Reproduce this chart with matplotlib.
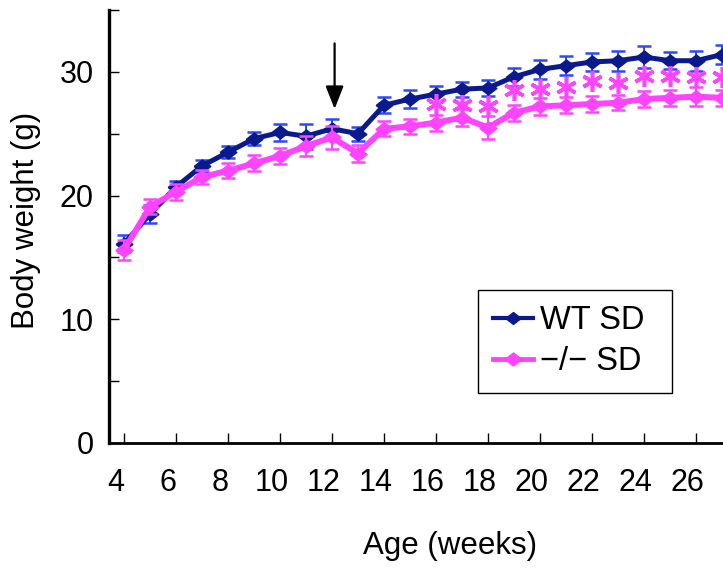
import numpy as np
import matplotlib
matplotlib.use("Agg")
import matplotlib.pyplot as plt
import matplotlib.transforms as mtransforms
from matplotlib.lines import Line2D
from matplotlib.patches import Rectangle

plt.rcParams["font.family"] = ["Liberation Sans", "DejaVu Sans"]

# ── Data ────────────────────────────────────────────────────────────────────
weeks = np.arange(4, 28)
wt_mean = [16.1, 18.5, 20.7, 22.4, 23.5, 24.6, 25.1, 24.8, 25.4, 25.0, 27.3, 27.8,
           28.2, 28.6, 28.7, 29.6, 30.2, 30.5, 30.8, 30.9, 31.2, 30.9, 30.9, 31.4]
wt_sd = [0.7, 0.7, 0.5, 0.5, 0.5, 0.55, 0.65, 1.0, 0.75, 0.55, 0.65, 0.75,
         0.65, 0.6, 0.65, 0.75, 0.75, 0.75, 0.7, 0.8, 0.9, 0.7, 0.8, 0.75]
ko_mean = [15.6, 19.1, 20.3, 21.5, 22.0, 22.6, 23.2, 24.0, 24.7, 23.4, 25.4, 25.6,
           25.9, 26.3, 25.5, 26.7, 27.2, 27.3, 27.4, 27.5, 27.8, 27.9, 28.0, 27.9]
ko_sd = [0.8, 0.6, 0.65, 0.6, 0.6, 0.65, 0.65, 0.8, 0.95, 0.65, 0.6, 0.6,
         0.65, 0.7, 0.95, 0.65, 0.7, 0.65, 0.65, 0.6, 0.65, 0.65, 0.8, 0.65]

# significance asterisks (weeks 16-27)
star_weeks = np.arange(16, 28)
star_y = [27.4, 27.3, 27.2, 28.5, 28.6, 28.8, 29.3, 29.1, 29.7, 29.7, 29.6, 29.6]

ARROW_WEEK = 12.1

WT_COLOR = "#0a1a8c"
WT_ERR = "#2a48ff"
KO_COLOR = "#ff44ff"

# wide, flat diamond like the Excel marker
DIAMOND = [(-1, 0), (0, 0.78), (1, 0), (0, -0.78), (-1, 0)]

# ── Figure ──────────────────────────────────────────────────────────────────
fig = plt.figure(figsize=(7.23, 5.68), dpi=100)
ax = fig.add_axes([109 / 723, 1 - 443 / 568, 1 - 109 / 723, (443 - 10) / 568])

ax.errorbar(weeks, wt_mean, yerr=wt_sd, fmt="none", ecolor=WT_ERR,
            elinewidth=1.4, capsize=4.7, capthick=1.8, zorder=2)
ax.plot(weeks, wt_mean, color=WT_COLOR, lw=3.6, marker=DIAMOND, ms=12, zorder=3)

ax.errorbar(weeks, ko_mean, yerr=ko_sd, fmt="none", ecolor=KO_COLOR,
            elinewidth=1.4, capsize=4.7, capthick=1.8, zorder=4)
ax.plot(weeks, ko_mean, color=KO_COLOR, lw=4.3, marker=DIAMOND, ms=12.5, zorder=5)

ax.plot(star_weeks, star_y, ls="none", marker=(6, 2, 0), ms=15, mew=2.6,
        color=KO_COLOR, zorder=4)

ax.annotate("", xy=(ARROW_WEEK, 27.0), xytext=(ARROW_WEEK, 32.3),
            arrowprops=dict(arrowstyle="-|>,head_length=1.4,head_width=0.55",
                            color="black", lw=1.6, shrinkA=0, shrinkB=0))

ax.set_xlim(4 - 15 / 26, 4 + (723 - 124) / 26)
ax.set_ylim(0, 35)

ax.set_xticks(np.arange(4, 27, 2))
ax.set_yticks([0, 10, 20, 30])
ax.set_yticks([5, 15, 25, 35], minor=True)
ax.tick_params(axis="both", which="both", direction="in", length=7, width=1.0,
               labelsize=22)
ax.tick_params(axis="x", pad=18)
ax.tick_params(axis="y", pad=11)

shift = mtransforms.ScaledTranslation(-6 / 72, 0, fig.dpi_scale_trans)
for lab in ax.get_xticklabels():
    lab.set_transform(lab.get_transform() + shift)

for side in ("top", "right"):
    ax.spines[side].set_visible(False)
ax.spines["left"].set_linewidth(2.4)
ax.spines["bottom"].set_linewidth(2.0)

fig.text(450 / 723, 1 - 546 / 568, "Age (weeks)", fontsize=22.5,
         ha="center", va="center")
fig.text(26 / 723, 1 - 220 / 568, "Body weight (g)", fontsize=22.5,
         rotation=90, ha="center", va="center")

handles = [
    Line2D([], [], color=WT_COLOR, lw=3, marker=DIAMOND, ms=11),
    Line2D([], [], color=KO_COLOR, lw=3.5, marker=DIAMOND, ms=12),
]
leg = fig.legend(handles, ["WT SD", "\u2212/\u2212 SD"], loc="upper left",
                 bbox_to_anchor=(478 / 723, 1 - 290 / 568), fontsize=23.5,
                 frameon=False, handlelength=1.2, handletextpad=0.22,
                 labelspacing=0.3, borderpad=0.47, borderaxespad=0)

# legend box as drawn in the original (extra room on the right)
fig.patches.append(Rectangle((478 / 723, 1 - 393 / 568), 194 / 723, 103 / 568,
                             transform=fig.transFigure, fill=False,
                             edgecolor="black", lw=1.0))

fig.savefig("out.png", dpi=100)
